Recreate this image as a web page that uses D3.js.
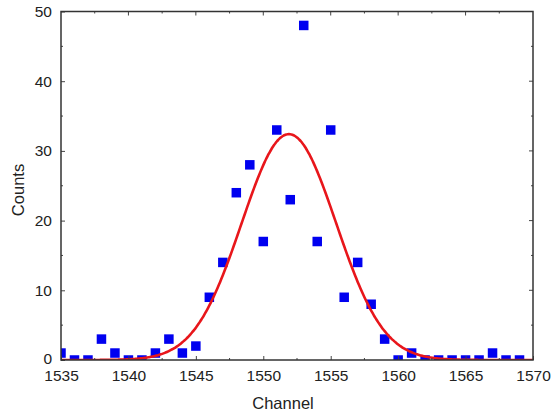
<!DOCTYPE html>
<html>
<head>
<meta charset="utf-8">
<script src="https://cdn.jsdelivr.net/npm/d3@7"></script>
<style>
    body { margin: 0; background: #fff; }
    text { font-family: "Liberation Sans", Arial, sans-serif; fill: #222; }
</style>
</head>
<body>
<svg id="chart"></svg>
<script>
// Data
// --------------------------------------------------------
    const channels = [1535, 1536, 1537, 1538, 1539, 1540, 1541, 1542, 1543, 1544,
                      1545, 1546, 1547, 1548, 1549, 1550, 1551, 1552, 1553, 1554,
                      1555, 1556, 1557, 1558, 1559, 1560, 1561, 1562, 1563, 1564,
                      1565, 1566, 1567, 1568, 1569];
    const counts = [1, 0, 0, 3, 1, 0, 0, 1, 3, 1,
                    2, 9, 14, 24, 28, 17, 33, 23, 48, 17,
                    33, 9, 14, 8, 3, 0, 1, 0, 0, 0,
                    0, 0, 1, 0, 0];

    // gaussian fit
    const fitAmplitude = 32.4;
    const fitCenter = 1551.9;
    const fitSigma = 3.5;

    const xTicks = [1535, 1540, 1545, 1550, 1555, 1560, 1565, 1570];
    const yTicks = [0, 10, 20, 30, 40, 50];

// 1. SVG canvas
    const height = 412;
    const width = 554;

    const padding = {
        top: 11.5,
        right: 21,
        bottom: 52,
        left: 61
    }

    const svg = d3.select('#chart')
                .attr('height', height)
                .attr('width', width)

// 2. Scales
    let xScale = d3.scaleLinear()
        .domain([1535, 1570])
        .range([padding.left, width - padding.right])
    let yScale = d3.scaleLinear()
        .domain([0, 50])
        .range([height - padding.bottom, padding.top])

    svg.append('clipPath')
        .attr('id', 'plot-clip')
        .append('rect')
            .attr('x', padding.left)
            .attr('y', padding.top)
            .attr('width', width - padding.left - padding.right)
            .attr('height', height - padding.top - padding.bottom)

// 3. Fit curve
    let fitPoints = d3.range(1535, 1570.01, 0.1).map(x => [x,
        fitAmplitude * Math.exp(-Math.pow(x - fitCenter, 2) / (2 * fitSigma * fitSigma))]);

    let line = d3.line()
        .x(d => xScale(d[0]))
        .y(d => yScale(d[1]))
        .curve(d3.curveMonotoneX);

// 4. Data points
    const size = 9.5;
    let plot = svg.append('g').attr('clip-path', 'url(#plot-clip)');

    plot.selectAll('.point')
        .data(channels)
        .enter()
        .append('rect')
            .attr('class', 'point')
            .attr('x', (d) => xScale(d) - size / 2)
            .attr('y', (d, i) => yScale(counts[i]) - size / 2)
            .attr('width', size)
            .attr('height', size)
            .attr('fill', '#0000f0')

    plot.append('path')
        .datum(fitPoints)
        .attr('d', line)
        .attr('fill', 'none')
        .attr('stroke', '#e8161b')
        .attr('stroke-width', 2.6)

// 5. Axes (ticks inside, box all round)
    const tickStroke = '#444';

    let bottomAxis = d3.axisBottom(xScale).tickValues(xTicks).tickSizeInner(-4).tickSizeOuter(0).tickPadding(10).tickFormat(d3.format('d'));
    svg.append('g')
        .attr('class', 'bottom-axis')
        .attr('transform', 'translate(0,' + (height - padding.bottom) + ')')
        .call(bottomAxis)

    let leftAxis = d3.axisLeft(yScale).tickValues(yTicks).tickSizeInner(-4).tickSizeOuter(0).tickPadding(9);
    svg.append('g')
        .attr('class', 'left-axis')
        .attr('transform', 'translate(' + padding.left + ',0)')
        .call(leftAxis)

    svg.selectAll('.bottom-axis text, .left-axis text')
        .attr('font-size', 15.5)
        .attr('font-family', '"Liberation Sans", Arial, sans-serif')
        .attr('fill', '#222')
    svg.selectAll('.left-axis .tick:first-of-type text').attr('dy', '0.2em')
    svg.selectAll('.bottom-axis .tick line, .left-axis .tick line').attr('stroke', tickStroke)

    // minor ticks + top/right ticks
    let minorX = d3.range(1537.5, 1570, 5);
    let minorY = d3.range(5, 50, 10);
    let majorX = xTicks.slice(1, -1);
    let majorY = yTicks.slice(1, -1);
    let ticks = svg.append('g').attr('stroke', tickStroke).attr('stroke-width', 1);
    const y0 = yScale(0), y1 = yScale(50), x0 = xScale(1535), x1 = xScale(1570);

    ticks.selectAll('.xt-major')
        .data(majorX).enter().append('line')
            .attr('x1', d => xScale(d)).attr('x2', d => xScale(d))
            .attr('y1', y1).attr('y2', y1 + 4)
    ticks.selectAll('.xb-minor')
        .data(minorX).enter().append('line')
            .attr('x1', d => xScale(d)).attr('x2', d => xScale(d))
            .attr('y1', y0).attr('y2', y0 - 2)
    ticks.selectAll('.xt-minor')
        .data(minorX).enter().append('line')
            .attr('x1', d => xScale(d)).attr('x2', d => xScale(d))
            .attr('y1', y1).attr('y2', y1 + 2)
    ticks.selectAll('.yr-major')
        .data(majorY).enter().append('line')
            .attr('x1', x1).attr('x2', x1 - 4)
            .attr('y1', d => yScale(d)).attr('y2', d => yScale(d))
    ticks.selectAll('.yl-minor')
        .data(minorY).enter().append('line')
            .attr('x1', x0).attr('x2', x0 + 2)
            .attr('y1', d => yScale(d)).attr('y2', d => yScale(d))
    ticks.selectAll('.yr-minor')
        .data(minorY).enter().append('line')
            .attr('x1', x1).attr('x2', x1 - 2)
            .attr('y1', d => yScale(d)).attr('y2', d => yScale(d))

    svg.selectAll('.domain').remove();
    svg.append('rect')
        .attr('x', x0)
        .attr('y', y1)
        .attr('width', x1 - x0)
        .attr('height', y0 - y1)
        .attr('fill', 'none')
        .attr('stroke', '#333')
        .attr('stroke-width', 1.5)

// 6. Axis titles
    svg.append('text')
        .attr('x', 283)
        .attr('y', 409)
        .attr('text-anchor', 'middle')
        .attr('font-size', 16.5)
        .text('Channel')

    svg.append('text')
        .attr('transform', 'translate(24,' + 190 + ') rotate(-90)')
        .attr('text-anchor', 'middle')
        .attr('font-size', 16.5)
        .text('Counts')
</script>
</body>
</html>
